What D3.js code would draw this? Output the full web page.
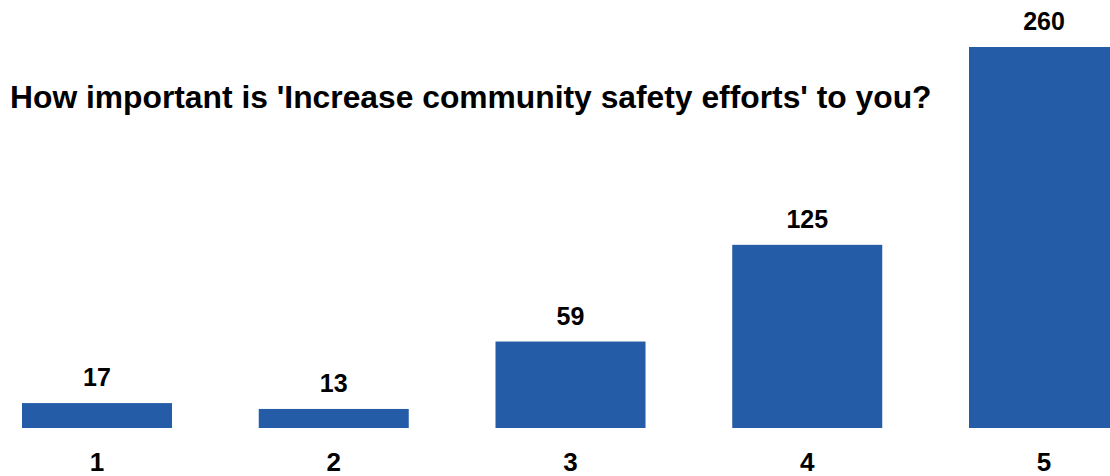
<!DOCTYPE html>
<html>
<head>
<meta charset="utf-8">
<script src="https://cdn.jsdelivr.net/npm/d3@7"></script>
<style>
  body { margin: 0; background: #fff; }
  text { font-family: "Liberation Sans", Arial, sans-serif; font-weight: bold; fill: #000; }
</style>
</head>
<body>
<svg width="1110" height="476"></svg>
<script>
var categories = ["1", "2", "3", "4", "5"];
var counts = [17, 13, 59, 125, 260];
var title = "How important is 'Increase community safety efforts' to you?";

var data = categories.map(function(c, i) { return {cat: c, value: counts[i]}; });

var svg = d3.select("svg");
var baseY = 428, topY = 47;

var x = d3.scaleBand()
    .domain(categories)
    .range([22, 1119])
    .paddingInner(0.3664)
    .paddingOuter(0);
var y = d3.scaleLinear()
    .domain([0, 260])
    .range([baseY, topY]);

svg.selectAll("rect.bar")
    .data(data)
    .enter()
    .append("rect")
    .attr("class", "bar")
    .attr("x", function(d) { return x(d.cat); })
    .attr("y", function(d) { return y(d.value); })
    .attr("width", x.bandwidth())
    .attr("height", function(d) { return baseY - y(d.value); })
    .attr("fill", "#255ca7");

svg.selectAll("text.val")
    .data(data)
    .enter()
    .append("text")
    .attr("class", "val")
    .attr("x", function(d) { return x(d.cat) + x.bandwidth() / 2; })
    .attr("y", function(d) { return y(d.value) - 17; })
    .attr("text-anchor", "middle")
    .style("font-size", "25px")
    .text(function(d) { return d.value; });

var xAxis = d3.axisBottom(x).tickSize(0).tickPadding(0);
var gx = svg.append("g")
    .attr("transform", "translate(0," + baseY + ")")
    .call(xAxis);
gx.select(".domain").remove();
gx.selectAll("text")
    .attr("y", 43)
    .attr("dy", null)
    .attr("fill", "#000")
    .style("font-size", "26px");

svg.append("text")
    .attr("x", 10)
    .attr("y", 108)
    .style("font-size", "31.8px")
    .text(title);
</script>
</body>
</html>
